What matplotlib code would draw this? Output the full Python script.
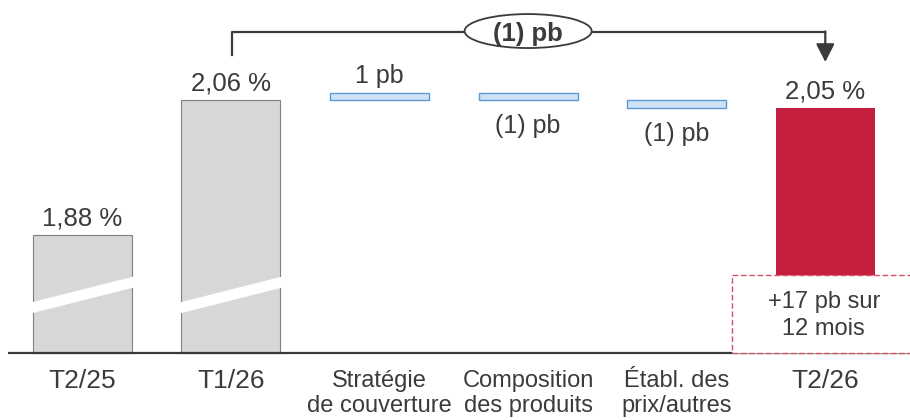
import matplotlib
matplotlib.use("Agg")
import matplotlib.pyplot as plt
from matplotlib.patches import Ellipse, Rectangle, Polygon

plt.rcParams['font.family'] = ['Liberation Sans', 'DejaVu Sans']

# data (marge en %, variations en pb)
periods = ['T2/25', 'T1/26']
totals = [1.88, 2.06]
drivers = ['Stratégie\nde couverture', 'Composition\ndes produits', 'Établ. des\nprix/autres']
deltas_pb = [1, -1, -1]
final_label = 'T2/26'
final_value = 2.05
qoq_pb = -1
yoy_pb = 17

TXT = '#3b3b3b'
GREY = '#d6d7d9'
BLUE = '#cfe2f5'
BLUE_EDGE = '#5b9bd5'
RED = '#c41f3e'

# broken axis: bars start from this value
floor = 1.7237
box_top = 1.827

def pct(v):
    return f"{v:.2f} %".replace('.', ',')

def pb(d):
    return f"{d} pb" if d > 0 else f"({abs(d)}) pb"

fig = plt.figure(figsize=(9.1, 4.2), dpi=100)
ax = fig.add_axes([0, 0, 1, 1])
ax.set_xlim(-0.554, 5.570)
ax.set_ylim(1.634, 2.194)
ax.axis('off')

w = 0.666
labels = periods + drivers + [final_label]

# totals
for i, v in enumerate(totals):
    ax.bar(i, v - floor, bottom=floor, width=w, color=GREY, edgecolor='#808080', lw=0.8, zorder=2)
    ax.annotate(pct(v), (i, v), xytext=(0, 7), textcoords='offset points',
                ha='center', va='baseline', fontsize=18.5, color=TXT)
    # break mark
    yl, yr, th = 1.784, 1.8173, 0.0147
    s = (yr - yl) / w
    e = 0.37
    yc = (yl + yr) / 2
    pts = [(i - e, yc - s * e), (i + e, yc + s * e), (i + e, yc + s * e + th), (i - e, yc - s * e + th)]
    pts = [(x, y - th / 2) for x, y in pts]
    ax.add_patch(Polygon(pts, closed=True, facecolor='white', edgecolor='none', zorder=3))

# waterfall
run = totals[-1]
for j, d in enumerate(deltas_pb):
    x = len(totals) + j
    nxt = run + d / 100
    ax.bar(x, abs(d) / 100, bottom=min(run, nxt), width=w, color=BLUE, edgecolor=BLUE_EDGE, lw=1, zorder=2)
    if d > 0:
        ax.annotate(pb(d), (x, nxt), xytext=(0, 7), textcoords='offset points',
                    ha='center', va='baseline', fontsize=18, color=TXT)
    else:
        ax.annotate(pb(d), (x, nxt), xytext=(0, -10), textcoords='offset points',
                    ha='center', va='top', fontsize=18, color=TXT)
    run = nxt

# final bar
xf = len(labels) - 1
ax.bar(xf, final_value - floor, bottom=floor, width=w, color=RED, edgecolor='none', zorder=2)
ax.annotate(pct(final_value), (xf, final_value), xytext=(0, 7), textcoords='offset points',
            ha='center', va='baseline', fontsize=18.5, color=TXT)

# yoy box
ax.add_patch(Rectangle((4.372, floor), 1.3, box_top - floor, facecolor='white',
                       edgecolor='#d4506a', lw=1, ls=(0, (4, 2)), zorder=4))
ax.text(xf - 0.01, 1.7833, f"+{yoy_pb} pb sur", ha='center', va='baseline', fontsize=17, color=TXT, zorder=5)
ax.text(xf - 0.01, 1.7473, "12 mois", ha='center', va='baseline', fontsize=17, color=TXT, zorder=5)

# baseline
ax.plot([-0.5, 5.57], [floor, floor], color='#3a3a3a', lw=1.6, zorder=3, solid_capstyle='butt')

# category labels
for i, lab in enumerate(labels):
    lines = lab.split('\n')
    if len(lines) == 1:
        ax.text(i, 1.6767, lab, ha='center', va='baseline', fontsize=19, color=TXT)
    else:
        for k, ln in enumerate(lines):
            ax.text(i, 1.6785 - k * 0.0333, ln, ha='center', va='baseline', fontsize=17, color=TXT)

# bracket T1/26 -> T2/26
yb = 2.1513
ax.plot([1.008, 1.008, xf], [2.1207, yb, yb], color='#3a3a3a', lw=1.6, zorder=3)
ax.annotate('', xy=(xf, 2.1113), xytext=(xf, yb + 0.0008),
            arrowprops=dict(arrowstyle='-|>,head_length=0.55,head_width=0.28', mutation_scale=20,
                            color='#3a3a3a', lw=1.6, shrinkA=0, shrinkB=0), zorder=3)
ax.add_patch(Ellipse((3.0, yb + 0.0013), 0.855, 0.0453, facecolor='white', edgecolor='#3a3a3a', lw=1.3, zorder=4))
ax.text(3.0, yb + 0.0013, pb(qoq_pb), ha='center', va='center_baseline', fontsize=18.5,
        fontweight='bold', color=TXT, zorder=5)

fig.savefig('out.png', dpi=100)
